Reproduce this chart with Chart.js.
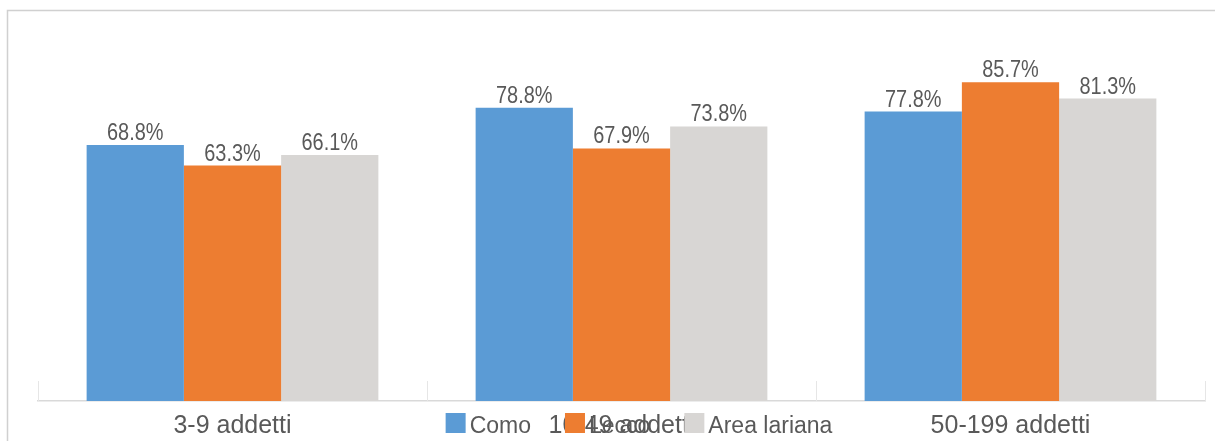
<!DOCTYPE html>
<html>
<head>
<meta charset="utf-8">
<title>Addetti per area</title>
<script src="https://cdn.jsdelivr.net/npm/chart.js@4.4.1/dist/chart.umd.min.js"></script>
<style>
  html, body { margin: 0; padding: 0; background: #fff; overflow: hidden; }
  #chart { display: block; }
</style>
</head>
<body>
<canvas id="chart" width="1215" height="441"></canvas>
<script>
// Share of firms by size class
const categories = ["3-9 addetti", "10-49 addetti", "50-199 addetti"];
const como = [68.8, 78.8, 77.8];
const lecco = [63.3, 67.9, 85.7];
const areaLariana = [66.1, 73.8, 81.3];

const FONT = '"Liberation Sans", Arial, sans-serif';
const TEXT = "#595959";
const COLORS = {
  como: "#5b9bd5",
  lecco: "#ed7d31",
  area: "#d8d6d4",
  axis: "#d9d9d9",
  frame: "#d0d0d0",
};

// Outer frame, drawn open on the right and bottom
const framePlugin = {
  id: "frame",
  beforeDraw(chart) {
    const ctx = chart.ctx;
    ctx.save();
    ctx.strokeStyle = COLORS.frame;
    ctx.lineWidth = 1.5;
    ctx.beginPath();
    ctx.moveTo(7.5, chart.height);
    ctx.lineTo(7.5, 10.5);
    ctx.lineTo(chart.width, 10.5);
    ctx.stroke();
    ctx.restore();
  },
};

// Short separators between categories, rising from the axis
const separatorPlugin = {
  id: "separators",
  afterDraw(chart) {
    const x = chart.scales.x;
    const ctx = chart.ctx;
    const n = categories.length;
    const step = (x.right - x.left) / n;
    ctx.save();
    ctx.strokeStyle = "#e6e6e6";
    ctx.lineWidth = 1;
    for (let i = 0; i <= n; i++) {
      const px = Math.round(x.left + i * step) + 0.5;
      ctx.beginPath();
      ctx.moveTo(px, x.top - 20);
      ctx.lineTo(px, x.top);
      ctx.stroke();
    }
    ctx.restore();
  },
};

// Percent labels above each bar (slightly condensed)
const valueLabelPlugin = {
  id: "valueLabels",
  afterDatasetsDraw(chart) {
    const ctx = chart.ctx;
    ctx.save();
    ctx.fillStyle = TEXT;
    ctx.font = "24px " + FONT;
    ctx.textAlign = "center";
    ctx.textBaseline = "alphabetic";
    chart.data.datasets.forEach((ds, di) => {
      chart.getDatasetMeta(di).data.forEach((bar, i) => {
        ctx.save();
        ctx.translate(bar.x, bar.y - 5);
        ctx.scale(0.83, 1);
        ctx.fillText(ds.data[i].toFixed(1) + "%", 0, 0);
        ctx.restore();
      });
    });
    ctx.restore();
  },
};

// Legend drawn across the bottom, over the axis labels
const legendPlugin = {
  id: "bottomLegend",
  afterDraw(chart) {
    const ctx = chart.ctx;
    const box = 20, gap = 4, spacing = 34;
    ctx.save();
    ctx.font = "23px " + FONT;
    ctx.textBaseline = "alphabetic";
    ctx.textAlign = "left";
    const items = chart.data.datasets.map(ds => ({
      label: ds.label,
      color: ds.backgroundColor,
      w: box + gap + ctx.measureText(ds.label).width,
    }));
    const total = items.reduce((s, it) => s + it.w, 0) + spacing * (items.length - 1);
    let x = 639 - total / 2;
    const baseline = 433;
    items.forEach(it => {
      ctx.fillStyle = it.color;
      ctx.fillRect(x, baseline - 20, box, box);
      ctx.fillStyle = TEXT;
      ctx.fillText(it.label, x + box + gap, baseline);
      x += it.w + spacing;
    });
    ctx.restore();
  },
};

new Chart(document.getElementById("chart"), {
  type: "bar",
  data: {
    labels: categories,
    datasets: [
      { label: "Como", data: como, backgroundColor: COLORS.como },
      { label: "Lecco", data: lecco, backgroundColor: COLORS.lecco },
      { label: "Area lariana", data: areaLariana, backgroundColor: COLORS.area },
    ],
  },
  options: {
    responsive: false,
    animation: false,
    devicePixelRatio: 1,
    layout: { padding: { left: 38, right: 10, top: 29, bottom: 0 } },
    datasets: {
      bar: { barPercentage: 1, categoryPercentage: 0.75, borderWidth: 0 },
    },
    plugins: {
      legend: { display: false },
      tooltip: { enabled: false },
    },
    scales: {
      x: {
        grid: { display: false, drawTicks: false },
        border: { display: true, color: COLORS.axis, width: 1.5 },
        ticks: {
          color: TEXT,
          padding: 10,
          font: { family: FONT, size: 25 },
          maxRotation: 0,
        },
        afterFit(scale) { scale.height = 40; },
      },
      y: {
        display: false,
        min: 0,
        max: 100,
      },
    },
  },
  plugins: [framePlugin, separatorPlugin, valueLabelPlugin, legendPlugin],
});
</script>
</body>
</html>
